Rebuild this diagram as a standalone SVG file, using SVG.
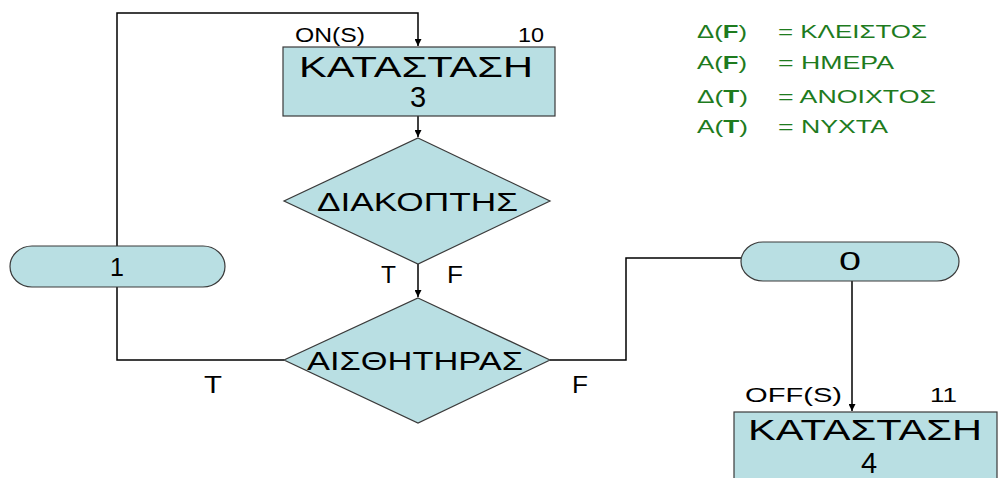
<svg xmlns="http://www.w3.org/2000/svg" width="1000" height="478" viewBox="0 0 1000 478">
  <defs>
    <marker id="arrow" viewBox="0 0 10 10" refX="10" refY="5" markerWidth="7" markerHeight="7" markerUnits="userSpaceOnUse" orient="auto">
      <path d="M0,0 L10,5 L0,10 z" fill="#000"/>
    </marker>
    <style>
      .shape { fill: #b9dfe3; stroke: #3a3a3a; stroke-width: 1.2; }
      .conn { fill: none; stroke: #000; stroke-width: 1.5; }
      .lbl { font-family: "Liberation Sans", Arial, sans-serif; fill: #000; }
      .big { font-size: 29px; }
      .mid { font-size: 25px; }
      .small { font-size: 21px; }
      .tf { font-size: 23px; }
      .legend { font-family: "Liberation Sans", Arial, sans-serif; font-size: 18px; fill: #1e7b1e; }
      .legend .b { font-weight: bold; }
    </style>
  </defs>

  <rect width="1000" height="478" fill="#fff"/>

  <!-- connectors -->
  <g id="connectors">
    <polyline class="conn" points="284,360 117,360 117,13 418,13 418,46" marker-end="url(#arrow)"/>
    <line class="conn" x1="418" y1="116" x2="418" y2="137" marker-end="url(#arrow)"/>
    <line class="conn" x1="418" y1="264" x2="418" y2="297" marker-end="url(#arrow)"/>
    <polyline class="conn" points="550,360 626,360 626,258 741,258"/>
    <line class="conn" x1="852" y1="281" x2="852" y2="411" marker-end="url(#arrow)"/>
  </g>

  <!-- state 3 -->
  <g id="state3">
    <rect class="shape" x="283" y="47" width="272" height="69"/>
    <text class="lbl small" x="295" y="42" textLength="70" lengthAdjust="spacingAndGlyphs">ON(S)</text>
    <text class="lbl small" x="518" y="42" textLength="26" lengthAdjust="spacingAndGlyphs">10</text>
    <text class="lbl big" x="299" y="77" textLength="234" lengthAdjust="spacingAndGlyphs">ΚΑΤΑΣΤΑΣΗ</text>
    <text class="lbl big" x="418" y="107" text-anchor="middle">3</text>
  </g>

  <!-- switch decision -->
  <g id="switch">
    <polygon class="shape" points="418,138 550,201 418,264 284,201"/>
    <text class="lbl mid" x="317" y="211" textLength="201" lengthAdjust="spacingAndGlyphs">ΔΙΑΚΟΠΤΗΣ</text>
    <text class="lbl tf" x="381" y="283" textLength="15" lengthAdjust="spacingAndGlyphs">T</text>
    <text class="lbl tf" x="447" y="283" textLength="16" lengthAdjust="spacingAndGlyphs">F</text>
  </g>

  <!-- sensor decision -->
  <g id="sensor">
    <polygon class="shape" points="418,298 550,360 418,423 284,360"/>
    <text class="lbl mid" x="307" y="370" textLength="216" lengthAdjust="spacingAndGlyphs">ΑΙΣΘΗΤΗΡΑΣ</text>
    <text class="lbl tf" x="204" y="393" textLength="18" lengthAdjust="spacingAndGlyphs">T</text>
    <text class="lbl tf" x="572" y="393" textLength="16" lengthAdjust="spacingAndGlyphs">F</text>
  </g>

  <!-- output 1 -->
  <g id="out1">
    <rect class="shape" x="10" y="246" width="215" height="41" rx="22" ry="20.5"/>
    <text class="lbl mid" x="117" y="276" text-anchor="middle">1</text>
  </g>

  <!-- output 0 -->
  <g id="out0">
    <rect class="shape" x="741" y="242" width="218" height="39" rx="22" ry="19.5"/>
    <text class="lbl mid" x="850" y="270" text-anchor="middle" textLength="22" lengthAdjust="spacingAndGlyphs">0</text>
  </g>

  <!-- state 4 -->
  <g id="state4">
    <rect class="shape" x="734" y="412" width="263" height="80"/>
    <text class="lbl small" x="745" y="402" textLength="97" lengthAdjust="spacingAndGlyphs">OFF(S)</text>
    <text class="lbl small" x="930" y="402" textLength="27" lengthAdjust="spacingAndGlyphs">11</text>
    <text class="lbl big" x="748" y="440" textLength="234" lengthAdjust="spacingAndGlyphs">ΚΑΤΑΣΤΑΣΗ</text>
    <text class="lbl big" x="869" y="473" text-anchor="middle">4</text>
  </g>

  <!-- legend -->
  <g id="legend">
    <text class="legend" x="697" y="38" textLength="50" lengthAdjust="spacingAndGlyphs">Δ(<tspan class="b">F</tspan>)</text>
    <text class="legend" x="778" y="38" textLength="149" lengthAdjust="spacingAndGlyphs">= ΚΛΕΙΣΤΟΣ</text>
    <text class="legend" x="697" y="69" textLength="50" lengthAdjust="spacingAndGlyphs">Α(<tspan class="b">F</tspan>)</text>
    <text class="legend" x="778" y="69" textLength="116" lengthAdjust="spacingAndGlyphs">= ΗΜΕΡΑ</text>
    <text class="legend" x="697" y="103" textLength="51" lengthAdjust="spacingAndGlyphs">Δ(<tspan class="b">T</tspan>)</text>
    <text class="legend" x="778" y="103" textLength="158" lengthAdjust="spacingAndGlyphs">= ΑΝΟΙΧΤΟΣ</text>
    <text class="legend" x="697" y="133" textLength="51" lengthAdjust="spacingAndGlyphs">Α(<tspan class="b">T</tspan>)</text>
    <text class="legend" x="778" y="133" textLength="110" lengthAdjust="spacingAndGlyphs">= ΝΥΧΤΑ</text>
  </g>
</svg>
